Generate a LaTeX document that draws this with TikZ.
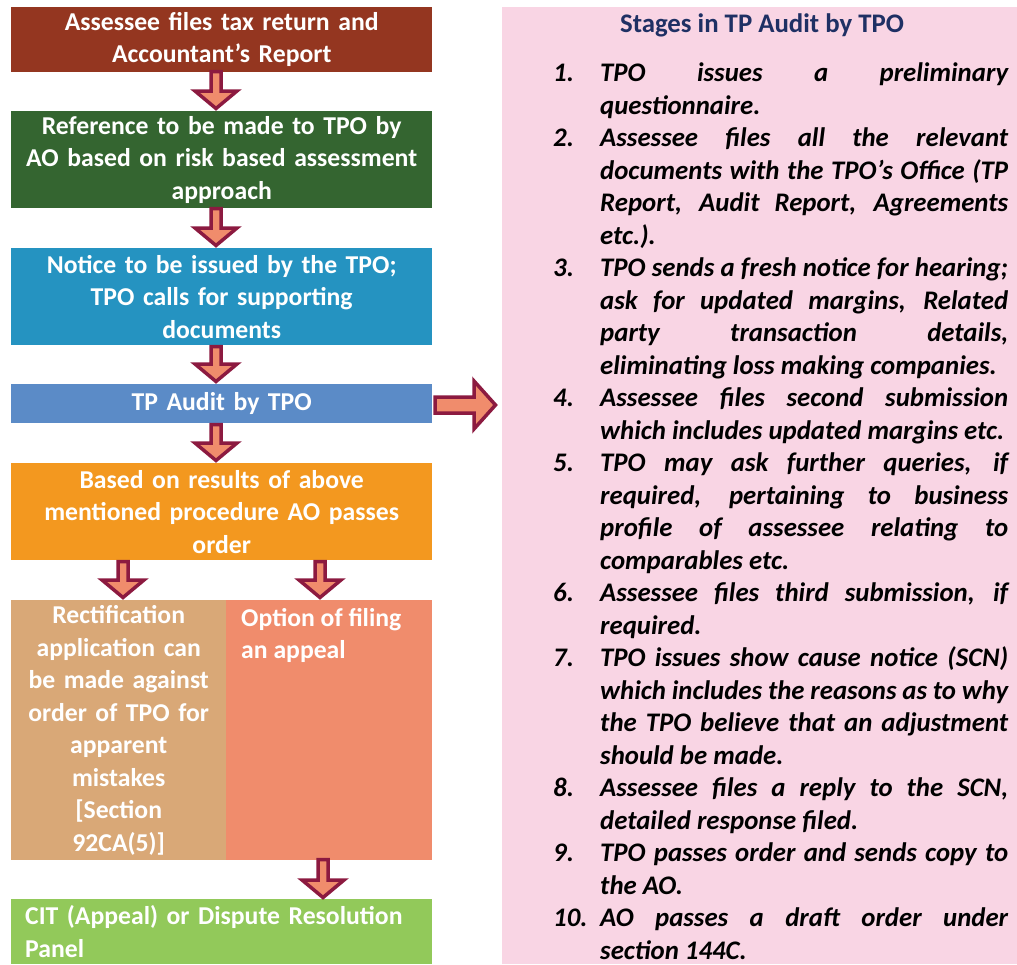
\documentclass[tikz,border=0pt]{standalone}
\usepackage{fontspec}
\setmainfont{Carlito}
\definecolor{cA}{HTML}{943620}
\definecolor{cB}{HTML}{346530}
\definecolor{cC}{HTML}{2593C1}
\definecolor{cD}{HTML}{5B8BC7}
\definecolor{cE}{HTML}{F3981F}
\definecolor{cF}{HTML}{D9A877}
\definecolor{cG}{HTML}{F08C6C}
\definecolor{cH}{HTML}{92C95A}
\definecolor{pinkbg}{HTML}{F9D5E4}
\definecolor{arrfill}{HTML}{F08C6C}
\definecolor{arrdraw}{HTML}{8C1A40}
\definecolor{titlec}{HTML}{1F3064}
\newcommand\downblock[3]{\draw[arr] ({#1-5},{#2+1.5}) -- ({#1+5},{#2+1.5}) -- ({#1+5},{#3-20}) -- ({#1+21},{#3-20}) -- (#1,{#3-2.5}) -- ({#1-21},{#3-20}) -- ({#1-5},{#3-20}) -- cycle;}
\newcommand\itm[2]{\makebox[47pt][l]{#1}#2}
\newcommand\jl[1]{\makebox[408pt][s]{#1}}
\begin{document}
\begin{tikzpicture}[x=1pt,y=-1pt,
  box/.style={fill=#1, text=white, font=\bfseries\fontsize{25.7}{32.5}\selectfont, inner sep=0pt, align=center, anchor=north west},
  arr/.style={fill=arrfill, draw=arrdraw, line width=3.5pt, line join=miter},
  lbl/.style={text=white, font=\bfseries\fontsize{25.7}{32.5}\selectfont, inner sep=0pt, align=left, anchor=north west}
]
\useasboundingbox (0,0) rectangle (1017,964);
\fill[pinkbg] (502,7) rectangle (1017,964);

\node[box=cA, minimum width=421pt, minimum height=65pt, text width=405pt] (b1) at (11,7) {Assessee files tax return and\\Accountant’s Report};
\node[box=cB, minimum width=421pt, minimum height=97pt, text width=405pt] (b2) at (11,111) {Reference to be made to TPO by\\AO based on risk based assessment\\approach};
\node[box=cC, minimum width=421pt, minimum height=97pt, text width=405pt] (b3) at (11,248) {Notice to be issued by the TPO;\\TPO calls for supporting\\documents};
\node[box=cD, minimum width=421pt, minimum height=39pt, text width=405pt] (b4) at (11,384) {TP Audit by TPO};
\node[box=cE, minimum width=421pt, minimum height=97pt, text width=405pt] (b5) at (11,463) {Based on results of above\\mentioned procedure AO passes\\order};
\node[box=cF, minimum width=215pt, minimum height=260pt, text width=205pt] (b6) at (11,600) {Rectification\\application can\\be made against\\order of TPO for\\apparent\\mistakes\\{[}Section\\92CA(5)]};
\node[box=cG, minimum width=206pt, minimum height=260pt] (b7) at (226,600) {};
\node[lbl] (b7t) at (241,608) {Option of filing\\an appeal};
\node[box=cH, minimum width=421pt, minimum height=65pt, text width=393pt, align=left] (b8) at (11,899) {CIT (Appeal) or Dispute Resolution\\Panel};

\downblock{216}{70}{111}
\downblock{216}{207}{248}
\downblock{216}{345}{384}
\downblock{216}{423}{463}
\downblock{123}{560}{600}
\downblock{320}{560}{600}
\downblock{323}{858}{900}
\draw[arr] (435,397) -- (474,397) -- (474,381) -- (495.5,405) -- (474,429) -- (474,413) -- (435,413) -- cycle;

\node[font=\bfseries\fontsize{26.8}{30}\selectfont, text=titlec] (title) at (762,25) {Stages in TP Audit by TPO};
\node[anchor=north west, inner sep=0pt, align=left, font=\bfseries\itshape\fontsize{26.8}{32.5}\selectfont] (list) at (553,62.5) {%
\itm{1.}{\jl{TPO issues a preliminary}}\\
\itm{}{questionnaire.}\\
\itm{2.}{\jl{Assessee files all the relevant}}\\
\itm{}{\jl{documents with the TPO’s Office (TP}}\\
\itm{}{\jl{Report, Audit Report, Agreements}}\\
\itm{}{etc.).}\\
\itm{3.}{\jl{TPO sends a fresh notice for hearing;}}\\
\itm{}{\jl{ask for updated margins, Related}}\\
\itm{}{\jl{party transaction details,}}\\
\itm{}{eliminating loss making companies.}\\
\itm{4.}{\jl{Assessee files second submission}}\\
\itm{}{which includes updated margins etc.}\\
\itm{5.}{\jl{TPO may ask further queries, if}}\\
\itm{}{\jl{required, pertaining to business}}\\
\itm{}{\jl{profile of assessee relating to}}\\
\itm{}{comparables etc.}\\
\itm{6.}{\jl{Assessee files third submission, if}}\\
\itm{}{required.}\\
\itm{7.}{\jl{TPO issues show cause notice (SCN)}}\\
\itm{}{\jl{which includes the reasons as to why}}\\
\itm{}{\jl{the TPO believe that an adjustment}}\\
\itm{}{should be made.}\\
\itm{8.}{\jl{Assessee files a reply to the SCN,}}\\
\itm{}{detailed response filed.}\\
\itm{9.}{\jl{TPO passes order and sends copy to}}\\
\itm{}{the AO.}\\
\itm{10.}{\jl{AO passes a draft order under}}\\
\itm{}{section 144C.}};
\end{tikzpicture}
\end{document}
